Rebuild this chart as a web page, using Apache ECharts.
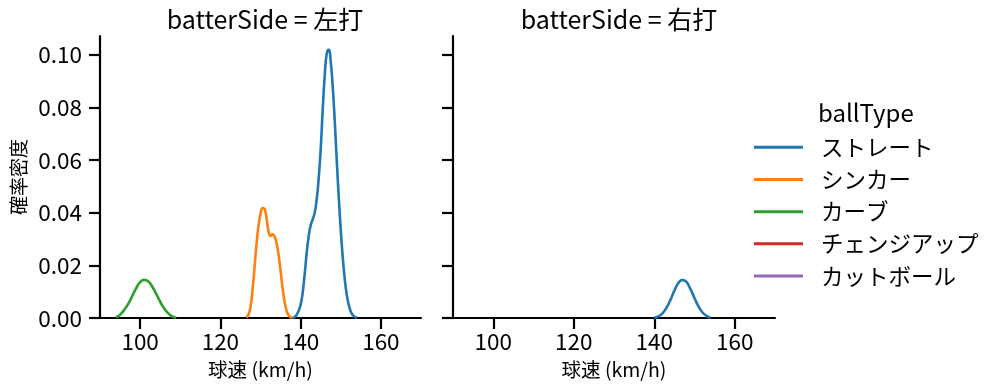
<!DOCTYPE html>
<html><head><meta charset="utf-8">
<script src="https://cdn.jsdelivr.net/npm/echarts@6/dist/echarts.min.js"></script>
<style>html,body{margin:0;padding:0;background:#fff}#c{width:999px;height:391px}</style>
</head><body><div id="c"></div>
<script>
const panelTitles = ['batterSide = 左打', 'batterSide = 右打'];
const ballTypes = ['ストレート', 'シンカー', 'カーブ', 'チェンジアップ', 'カットボール'];
const colors = ['#1f77b4', '#ff7f0e', '#2ca02c', '#d62728', '#9467bd'];
const xTicks = [100, 120, 140, 160];
const yTicks = [0, 0.02, 0.04, 0.06, 0.08, 0.10];

// Left panel (左打)
const leftStraight = [
  [138,0.0000],[138.5,0.0004],[139,0.0012],[139.5,0.0028],[140,0.0050],[140.5,0.0095],[141,0.0165],[141.5,0.0245],
  [142,0.0310],[142.5,0.0352],[143,0.0375],[143.5,0.0400],[144,0.0450],[144.5,0.0530],[145,0.0640],[145.5,0.0790],
  [146,0.0920],[146.5,0.1005],[147,0.1020],[147.5,0.0975],[148,0.0880],[148.5,0.0750],[149,0.0600],[149.5,0.0460],
  [150,0.0335],[150.5,0.0230],[151,0.0148],[151.5,0.0088],[152,0.0050],[152.5,0.0025],[153,0.0011],[153.5,0.0004],[154,0.0001]
];
const leftSinker = [
  [126.5,0.0002],[127,0.0012],[127.5,0.0040],[128,0.0105],[128.5,0.0190],[129,0.0280],[129.5,0.0350],[130,0.0395],
  [130.5,0.0418],[131,0.0415],[131.5,0.0380],[132,0.0330],[132.5,0.0312],[133,0.0318],[133.5,0.0310],[134,0.0285],
  [134.5,0.0240],[135,0.0180],[135.5,0.0115],[136,0.0062],[136.5,0.0028],[137,0.0010],[137.5,0.0003],[138,0.0000]
];
const leftCurve = [
  [94,0.0003],[95,0.0012],[96,0.0030],[97,0.0053],[98,0.0082],[99,0.0113],[100,0.0136],[101,0.0145],[102,0.0140],
  [103,0.0120],[104,0.0092],[105,0.0062],[106,0.0036],[107,0.0018],[108,0.0006],[109,0.0001]
];
// Right panel (右打)
const rightStraight = [
  [140,0.0001],[141,0.0006],[142,0.0017],[143,0.0038],[144,0.0068],[145,0.0104],[146,0.0133],[147,0.0145],
  [148,0.0137],[149,0.0110],[150,0.0076],[151,0.0044],[152,0.0021],[153,0.0008],[154,0.0001]
];

const FONT = '"Noto Sans CJK JP", "Noto Sans", sans-serif';
const X_MIN = 90, X_MAX = 170, Y_MIN = 0, Y_MAX = 0.1072;
const axisLine = {show: true, lineStyle: {color: '#000', width: 2.2}};
const tickBase = {show: true, length: 11, inside: false, lineStyle: {color: '#000', width: 2.2}};

function xAxis(idx) {
  return {
    type: 'value', gridIndex: idx, min: X_MIN, max: X_MAX,
    axisLine, axisTick: Object.assign({}, tickBase, {customValues: xTicks}),
    axisLabel: {customValues: xTicks, color: '#000', fontSize: 22.5, fontFamily: FONT, margin: 12},
    splitLine: {show: false},
    name: '球速 (km/h)', nameLocation: 'middle', nameGap: 42,
    nameTextStyle: {color: '#000', fontSize: 19.5, fontFamily: FONT}
  };
}
function yAxis(idx) {
  return {
    type: 'value', gridIndex: idx, min: Y_MIN, max: Y_MAX,
    axisLine, axisTick: Object.assign({}, tickBase, {customValues: yTicks}),
    axisLabel: {show: idx === 0, customValues: yTicks, color: '#000', fontSize: 22.5, fontFamily: FONT, margin: 18,
      formatter: v => v.toFixed(2)},
    splitLine: {show: false},
    name: idx === 0 ? '確率密度' : '', nameLocation: 'middle', nameGap: 72, nameRotate: 90,
    nameTextStyle: {color: '#000', fontSize: 19, fontFamily: FONT}
  };
}
function line(name, data, xi, color) {
  return {name, type: 'line', xAxisIndex: xi, yAxisIndex: xi, data, smooth: true, showSymbol: false, symbol: 'none',
    lineStyle: {color, width: 2.6}, itemStyle: {color}, animation: false, z: 3};
}

const series = [
  line(ballTypes[0], leftStraight, 0, colors[0]),
  line(ballTypes[1], leftSinker, 0, colors[1]),
  line(ballTypes[2], leftCurve, 0, colors[2]),
  line(ballTypes[3], [], 0, colors[3]),
  line(ballTypes[4], [], 0, colors[4]),
  line(ballTypes[0], rightStraight, 1, colors[0])
];

const titleStyle = {fontSize: 25, fontWeight: 'normal', color: '#000', fontFamily: FONT};
const chart = echarts.init(document.getElementById('c'), null, {renderer: 'canvas'});
chart.setOption({
  backgroundColor: '#fff',
  animation: false,
  color: colors,
  title: [
    {text: panelTitles[0], left: 260, top: 2, textAlign: 'center', textStyle: titleStyle},
    {text: panelTitles[1], left: 614, top: 2, textAlign: 'center', textStyle: titleStyle},
    {text: 'ballType', left: 813, top: 96, textStyle: Object.assign({}, titleStyle, {fontSize: 24})}
  ],
  legend: {
    data: ballTypes, orient: 'vertical', left: 749, top: 131, icon: 'rect', itemWidth: 49, itemHeight: 3,
    itemGap: 9.7, textStyle: {fontSize: 22.5, lineHeight: 20, color: '#000', fontFamily: FONT, padding: [0,0,0,13]}
  },
  grid: [
    {left: 100, top: 36, width: 321, height: 282, containLabel: false},
    {left: 453, top: 36, width: 322, height: 282, containLabel: false}
  ],
  xAxis: [xAxis(0), xAxis(1)],
  yAxis: [yAxis(0), yAxis(1)],
  series
});
</script></body></html>
